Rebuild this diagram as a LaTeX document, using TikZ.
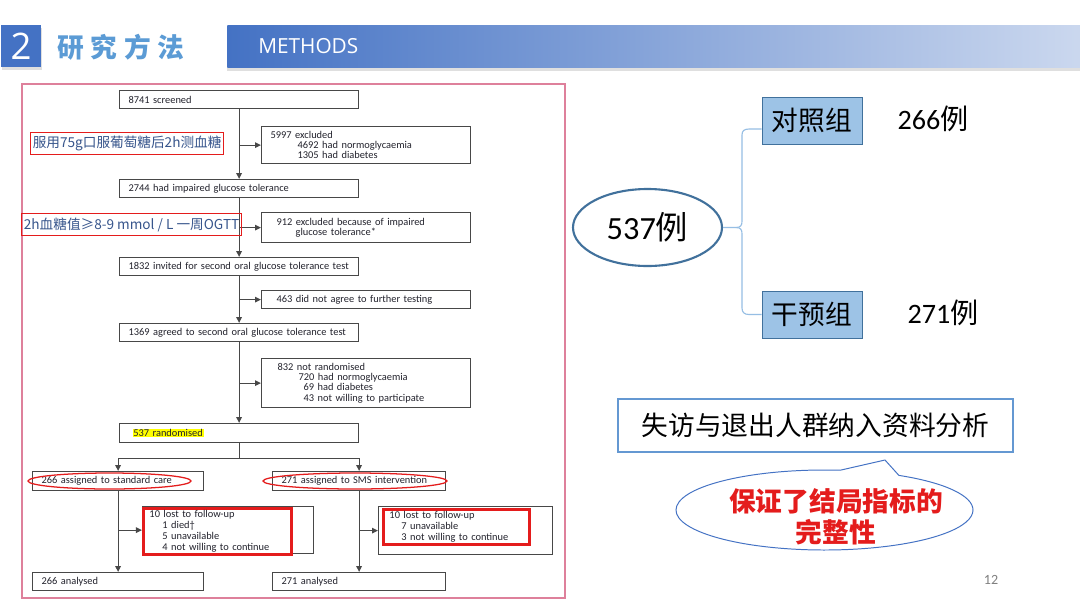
\documentclass[tikz,border=0pt]{standalone}
\usepackage{fontspec}
\setmainfont{Carlito}
\newfontfamily\cjk{Noto Sans CJK SC}
\newfontfamily\uisans{Open Sans}
\usepackage{xcolor}
\usepackage{tikz}
\usetikzlibrary{arrows.meta,shapes.geometric,shapes.callouts,shadows}

\newdimen\pxu \pxu=0.025cm
\definecolor{hdrblue}{RGB}{68,114,196}
\definecolor{titleblue}{RGB}{91,155,213}
\definecolor{framepink}{RGB}{222,128,155}
\definecolor{boxgray}{RGB}{72,72,72}
\definecolor{flowtext}{RGB}{35,35,45}
\definecolor{markred}{RGB}{228,28,28}
\definecolor{notetext}{RGB}{55,85,140}
\definecolor{grpfill}{RGB}{157,195,230}
\definecolor{grpline}{RGB}{65,113,156}
\definecolor{bracecol}{RGB}{150,190,228}
\definecolor{noteline}{RGB}{100,152,210}
\definecolor{hlyellow}{RGB}{255,255,0}

\newcommand\flowfont{\fontsize{7.4}{7.3}\selectfont}

\begin{document}
\begin{tikzpicture}[
  x=0.025cm, y=-0.025cm,
  >={Triangle[length=1.5mm,width=1.4mm]},
  box/.style={
    rectangle, draw=boxgray, line width=0.85pt, fill=white, anchor=north west,
    inner xsep=9\pxu, inner ysep=0pt, align=left, font=\flowfont, text=flowtext},
  mainbox/.style={box, minimum height=18\pxu, text width=221\pxu},
  sidebox/.style={box, text width=191\pxu},
  armbox/.style={box, minimum height=19\pxu, text width=153\pxu},
  lostbox/.style={box, inner sep=0pt},
  lostmark/.style={
    rectangle, draw=markred, line width=2.1pt, anchor=north west,
    inner xsep=6\pxu, inner ysep=0pt, align=left,
    font=\fontsize{7.4}{7.8}\selectfont, text=flowtext},
  flow/.style={draw=boxgray, line width=0.85pt},
  arr/.style={flow, ->},
  hlring/.style={ellipse, draw=markred, line width=0.9pt, minimum height=16\pxu, inner sep=0pt},
  note/.style={
    rectangle, draw=markred, line width=0.9pt, anchor=north west, inner sep=0pt,
    minimum height=22\pxu, font=\cjk\fontsize{9.7}{11}\selectfont, text=notetext},
  grp/.style={
    rectangle, draw=grpline, line width=0.6pt, fill=grpfill, inner sep=0pt,
    minimum width=100\pxu, minimum height=47\pxu, font=\cjk\fontsize{19}{22}\selectfont},
  count/.style={font=\fontsize{20}{24}\selectfont},
]
\useasboundingbox (0,0) rectangle (1080,608);
\fill[white] (0,0) rectangle (1080,608);

% ---- header ----
\node[rectangle, fill=hdrblue, minimum width=40\pxu, minimum height=42\pxu,
      inner sep=0pt, drop shadow={opacity=0.25,shadow xshift=1pt,shadow yshift=-2pt},
      font=\uisans\fontsize{26}{28}\selectfont, text=white] (secnum) at (21,46) {2};
\node[anchor=west, inner sep=0pt, text=titleblue,
      font=\cjk\bfseries\fontsize{19}{22}\selectfont] (sectitle) at (57,47)
  {研\hspace{0.17cm}究\hspace{0.17cm}方\hspace{0.17cm}法};
\node[rectangle, anchor=north west, minimum width=853\pxu, minimum height=42\pxu, inner sep=0pt,
      left color=hdrblue, middle color=hdrblue!90!white, right color=hdrblue!28!white,
      drop shadow={opacity=0.25,shadow xshift=0pt,shadow yshift=-2.5pt}] (bar) at (227,25) {};
\node[anchor=west, inner sep=0pt, text=white, font=\uisans\fontsize{14.8}{17}\selectfont]
  (methods) at (258,46) {METHODS};

% ---- flowchart frame ----
\draw[framepink, line width=1.1pt] (22,84) rectangle (565,598);

% ---- screening column ----
\node[mainbox] (scr) at (119,90) {8741 screened};
\node[sidebox, minimum height=37\pxu] (exA) at (261,126)
  {5997 excluded\\\hspace*{27\pxu}4692 had normoglycaemia\\\hspace*{27\pxu}1305 had diabetes};
\node[mainbox] (ig) at (119,179) {2744 had impaired glucose tolerance};
\node[sidebox, minimum height=30\pxu] (exB) at (261,212)
  {\hspace*{6\pxu}912 excluded because of impaired\\\hspace*{25\pxu}glucose tolerance*};
\node[mainbox] (inv) at (119,257) {1832 invited for second oral glucose tolerance test};
\node[sidebox, minimum height=18\pxu] (exC) at (261,290)
  {\hspace*{6\pxu}463 did not agree to further testing};
\node[mainbox] (agr) at (119,323) {1369 agreed to second oral glucose tolerance test};
\node[sidebox, minimum height=49\pxu] (exD) at (261,358)
  {\hspace*{7\pxu}832 not randomised\\\hspace*{28\pxu}720 had normoglycaemia\\
   \hspace*{33\pxu}69 had diabetes\\\hspace*{33\pxu}43 not willing to participate};
\node[mainbox, minimum height=19\pxu] (rand) at (119,423)
  {\hspace*{4\pxu}{\setlength\fboxsep{0.5pt}\colorbox{hlyellow}{537 randomised}}};

\draw[arr] (scr) -- (ig);
\draw[arr] (ig) -- (inv);
\draw[arr] (inv) -- (agr);
\draw[arr] (agr) -- (rand);
\draw[arr] (scr.south |- exA.west) -- (exA.west);
\draw[arr] (scr.south |- exB.west) -- (exB.west);
\draw[arr] (scr.south |- exC.west) -- (exC.west);
\draw[arr] (scr.south |- exD.west) -- (exD.west);

% ---- two arms ----
\node[armbox] (armA) at (32,471) {266 assigned to standard care};
\node[armbox, text width=155\pxu] (armB) at (272,471) {271 assigned to SMS intervention};
\node[hlring, minimum width=163\pxu] (ringA) at (109.5,481) {};
\node[hlring, minimum width=184\pxu] (ringB) at (355,481) {};

\draw[flow] (rand.south) -- ++(0,15) coordinate (split);
\draw[arr] (split) -| (armA.north);
\draw[arr] (split) -| (armB.north);

\node[lostbox, minimum width=171\pxu, minimum height=47\pxu] (lostAbox) at (142,506) {};
\node[lostmark, minimum width=148\pxu, minimum height=46\pxu, text width=136\pxu] (lostA) at (142,507)
  {10 lost to follow-up\\\hspace*{13\pxu}1 died\textdagger\\\hspace*{13\pxu}5 unavailable\\
   \hspace*{13\pxu}4 not willing to continue};
\node[lostbox, minimum width=174\pxu, minimum height=48\pxu] (lostBbox) at (378,506) {};
\node[lostmark, minimum width=146\pxu, minimum height=35\pxu, text width=134\pxu] (lostB) at (382,508)
  {10 lost to follow-up\\\hspace*{12\pxu}7 unavailable\\\hspace*{12\pxu}3 not willing to continue};

\node[armbox, minimum height=18\pxu] (anaA) at (32,572) {266 analysed};
\node[armbox, minimum height=18\pxu, text width=155\pxu] (anaB) at (272,572) {271 analysed};

\draw[arr] (armA) -- (anaA);
\draw[arr] (armB.south) -- (armB.south |- anaB.north);
\draw[arr] (armA.south |- lostAbox.west) -- (lostAbox.west);
\draw[arr] (armB.south |- lostBbox.west) -- (lostBbox.west);

% ---- notes on the left ----
\node[note, minimum width=193\pxu] (noteA) at (30,132) {服用75g口服葡萄糖后2h测血糖};
\node[note, minimum width=220\pxu] (noteB) at (21,213) {2h血糖值≥8-9 mmol / L 一周OGTT};

% ---- groups on the right ----
\node[ellipse, draw=grpline, line width=1.5pt, fill=white, inner sep=0pt,
      minimum width=149\pxu, minimum height=77\pxu,
      font=\fontsize{23}{26}\selectfont] (tot) at (647.5,227.5) {537{\cjk 例}};
\node[grp] (ctl) at (812,120.5) {对照组};
\node[grp] (intv) at (812,314.5) {干预组};
\node[count] (ctlN) at (933,119) {266{\cjk 例}};
\node[count] (intvN) at (943,313) {271{\cjk 例}};

\draw[bracecol, line width=0.8pt] (tot.east) -- (736,227.5)
  .. controls (741,227.5) and (742,225) .. (742,221) -- (742,135)
  .. controls (742,131) and (744,129) .. (749,129) -- ([yshift=-8.5\pxu]ctl.west);
\draw[bracecol, line width=0.8pt] (736,227.5)
  .. controls (741,227.5) and (742,230) .. (742,234) -- (742,308)
  .. controls (742,312) and (744,314.5) .. (749,314.5) -- (intv.west);

% ---- analysis note and callout ----
\node[rectangle, draw=noteline, line width=1.8pt, fill=white, inner sep=0pt,
      minimum width=395\pxu, minimum height=53\pxu,
      font=\cjk\fontsize{19}{22}\selectfont] (itt) at (815.5,425.5) {失访与退出人群纳入资料分析};
\node[ellipse callout, draw=hdrblue, line width=0.7pt, fill=white,
      minimum width=297\pxu, minimum height=80\pxu, inner sep=0pt,
      callout pointer arc=24, callout absolute pointer={(885,460)}] (bubble) at (824.5,510) {};
\node[align=center, text=markred, inner sep=0pt,
      font=\cjk\bfseries\fontsize{19}{22}\selectfont] (bubbleTxt) at (836,517)
  {保证了结局指标的\\完整性};

\node[text=black!50, font=\fontsize{10}{12}\selectfont] (page) at (991,580) {12};

\end{tikzpicture}
\end{document}
